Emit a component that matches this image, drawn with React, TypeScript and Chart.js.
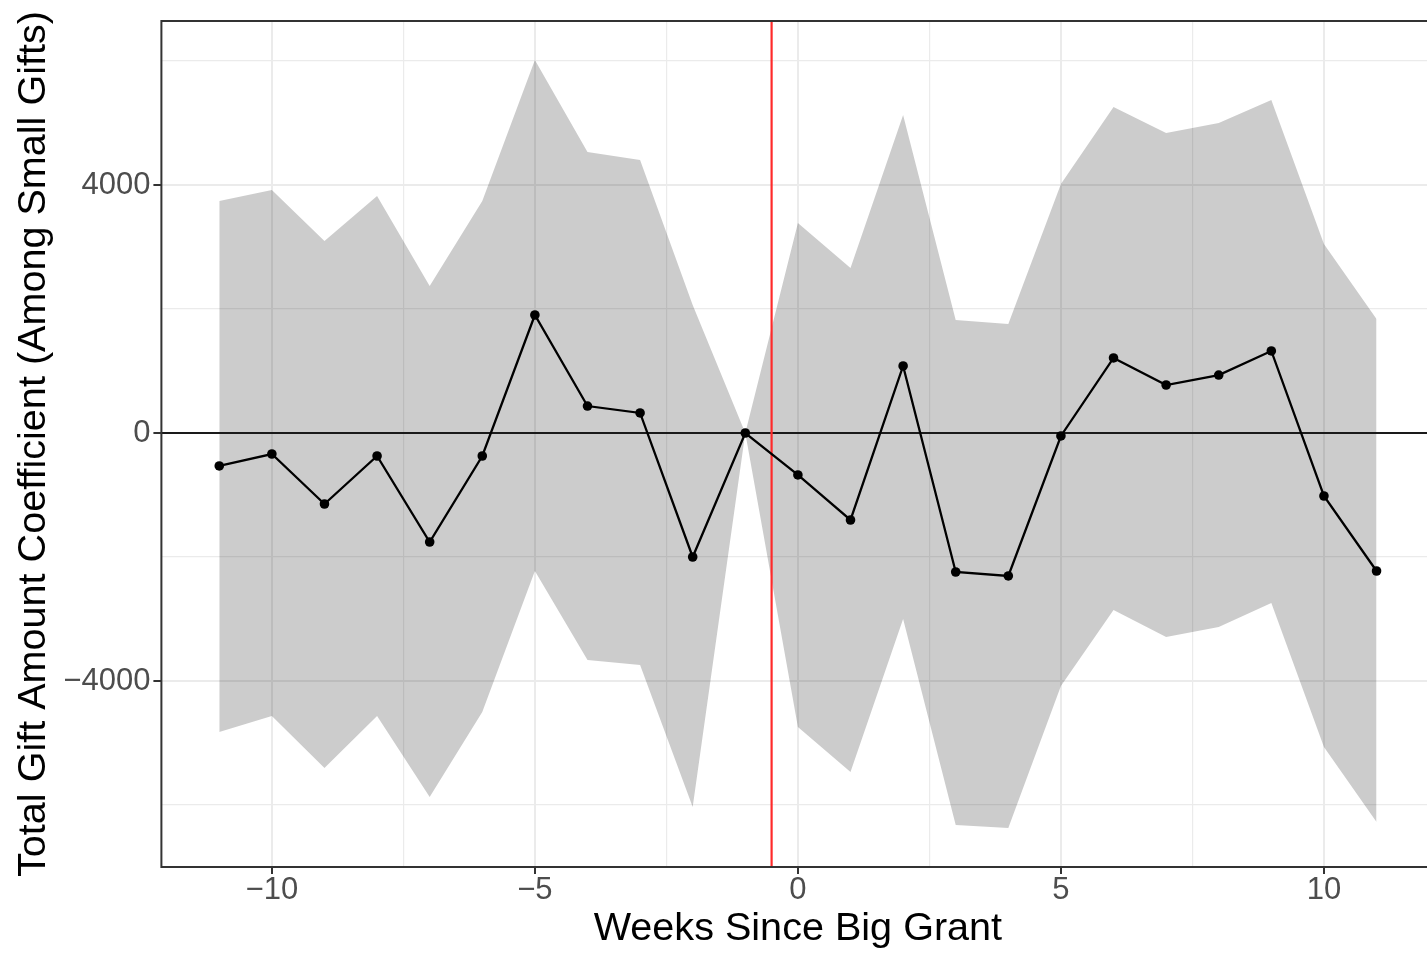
import React, { useEffect, useRef } from "react";
import { Chart, registerables } from "chart.js";

Chart.register(...registerables);

// ---- data ----
const weeks = [-11, -10, -9, -8, -7, -6, -5, -4, -3, -2, -1, 0, 1, 2, 3, 4, 5, 6, 7, 8, 9, 10, 11];
const coefficient = [-532, -339, -1145, -371, -1758, -371, 1903, 435, 323, -2000, 0, -677, -1403, 1081, -2242, -2306, -48, 1210, 774, 935, 1323, -1016, -2226];
const upperCI = [3742, 3919, 3097, 3823, 2371, 3742, 6016, 4532, 4403, 2065, 0, 3387, 2661, 5129, 1823, 1758, 4016, 5258, 4839, 5000, 5371, 3048, 1839];
const lowerCI = [-4823, -4565, -5403, -4565, -5871, -4500, -2226, -3661, -3742, -6032, 0, -4742, -5468, -3000, -6323, -6371, -4081, -2855, -3290, -3129, -2742, -5065, -6274];

const xMajorTicks = [-10, -5, 0, 5, 10];
const xMinorTicks = [-7.5, -2.5, 2.5, 7.5];
const yMajorTicks = [-4000, 0, 4000];
const yMinorTicks = [-6000, -2000, 2000, 6000];
const xLimits = [-12.1, 12.1];
const yLimits = [-7000, 6645];
const eventWeek = -0.5;
const xTitle = "Weeks Since Big Grant";
const yTitle = "Total Gift Amount Coefficient (Among Small Gifts)";

const FONT = "'Liberation Sans', Arial, Helvetica, sans-serif";

const fmt = (v: number) => (v < 0 ? "\u2212" + Math.abs(v) : String(v));

const panelBorder = {
  id: "panelBorder",
  afterDraw(chart: any) {
    const { ctx, chartArea } = chart;
    const { left, top, right, bottom } = chartArea;
    ctx.save();
    ctx.strokeStyle = "#333333";
    ctx.lineWidth = 2;
    ctx.strokeRect(left, top, right - left, bottom - top);
    ctx.restore();
  },
};

export default function App() {
  const ref = useRef<HTMLCanvasElement | null>(null);

  useEffect(() => {
    document.body.style.margin = "0";
    document.body.style.overflow = "hidden";
    const canvas = ref.current!;
    const sortedX = [...xMajorTicks, ...xMinorTicks].sort((a, b) => a - b);
    const sortedY = [...yMajorTicks, ...yMinorTicks].sort((a, b) => a - b);

    const chart = new Chart(canvas, {
      type: "line",
      data: {
        datasets: [
          {
            label: "upper",
            data: weeks.map((w, i) => ({ x: w, y: upperCI[i] })),
            borderColor: "transparent",
            borderWidth: 0,
            pointRadius: 0,
            backgroundColor: "rgba(0,0,0,0.2)",
            fill: "+1",
            order: 4,
          },
          {
            label: "lower",
            data: weeks.map((w, i) => ({ x: w, y: lowerCI[i] })),
            borderColor: "transparent",
            borderWidth: 0,
            pointRadius: 0,
            fill: false,
            order: 5,
          },
          {
            label: "zero",
            data: [
              { x: xLimits[0], y: 0 },
              { x: xLimits[1], y: 0 },
            ],
            borderColor: "#1a1a1a",
            borderWidth: 2.2,
            pointRadius: 0,
            fill: false,
            order: 2,
          },
          {
            label: "event",
            data: [
              { x: eventWeek, y: yLimits[0] },
              { x: eventWeek, y: yLimits[1] },
            ],
            borderColor: "#FF2A2A",
            borderWidth: 2.2,
            pointRadius: 0,
            fill: false,
            order: 1,
          },
          {
            label: "coef",
            data: weeks.map((w, i) => ({ x: w, y: coefficient[i] })),
            borderColor: "#000000",
            borderWidth: 2.3,
            pointRadius: 4.8,
            pointBackgroundColor: "#000000",
            pointBorderWidth: 0,
            fill: false,
            order: 0,
          },
        ],
      },
      options: {
        animation: false,
        responsive: false,
        events: [],
        layout: { padding: { left: 0, top: 21, right: 5.6, bottom: 0 } },
        plugins: {
          legend: { display: false },
          tooltip: { enabled: false },
        },
        scales: {
          x: {
            type: "linear",
            min: xLimits[0],
            max: xLimits[1],
            afterBuildTicks: (scale: any) => {
              scale.ticks = sortedX.map((v) => ({ value: v }));
            },
            afterFit: (scale: any) => {
              scale.height = 86;
            },
            border: { display: false },
            grid: {
              color: "#EBEBEB",
              lineWidth: (c: any) => (xMajorTicks.includes(c.tick?.value) ? 2 : 1.2),
              drawTicks: true,
              tickLength: 7,
              tickWidth: 2,
              tickColor: (c: any) => (xMajorTicks.includes(c.tick?.value) ? "#333333" : "rgba(0,0,0,0)"),
            },
            ticks: {
              autoSkip: false,
              maxRotation: 0,
              padding: 1,
              color: "#4D4D4D",
              font: { family: FONT, size: 31, lineHeight: 1 },
              callback: (v: any) => (xMajorTicks.includes(v) ? fmt(v) : ""),
            },
            title: {
              display: true,
              text: xTitle,
              color: "#000000",
              font: { family: FONT, size: 39.6, lineHeight: 1 },
              padding: { top: 0, bottom: 4 },
            },
          },
          y: {
            type: "linear",
            min: yLimits[0],
            max: yLimits[1],
            afterBuildTicks: (scale: any) => {
              scale.ticks = sortedY.map((v) => ({ value: v }));
            },
            afterFit: (scale: any) => {
              scale.width = 161.4;
            },
            border: { display: false },
            grid: {
              color: "#EBEBEB",
              lineWidth: (c: any) => (yMajorTicks.includes(c.tick?.value) ? 2 : 1.2),
              drawTicks: true,
              tickLength: 8,
              tickWidth: 2,
              tickColor: (c: any) => (yMajorTicks.includes(c.tick?.value) ? "#333333" : "rgba(0,0,0,0)"),
            },
            ticks: {
              autoSkip: false,
              padding: 3,
              color: "#4D4D4D",
              font: { family: FONT, size: 31, lineHeight: 1 },
              callback: (v: any) => (yMajorTicks.includes(v) ? fmt(v) : ""),
            },
            title: {
              display: true,
              text: yTitle,
              color: "#000000",
              font: { family: FONT, size: 39.6, lineHeight: 1 },
              padding: { top: 14, bottom: 0 },
            },
          },
        },
      },
      plugins: [panelBorder],
    } as any);

    return () => chart.destroy();
  }, []);

  return (
    <div style={{ position: "fixed", left: 0, top: 0, width: 1427, height: 953, overflow: "hidden", background: "#ffffff" }}>
      <canvas ref={ref} width={1440} height={953} style={{ width: 1440, height: 953, display: "block" }} />
    </div>
  );
}
